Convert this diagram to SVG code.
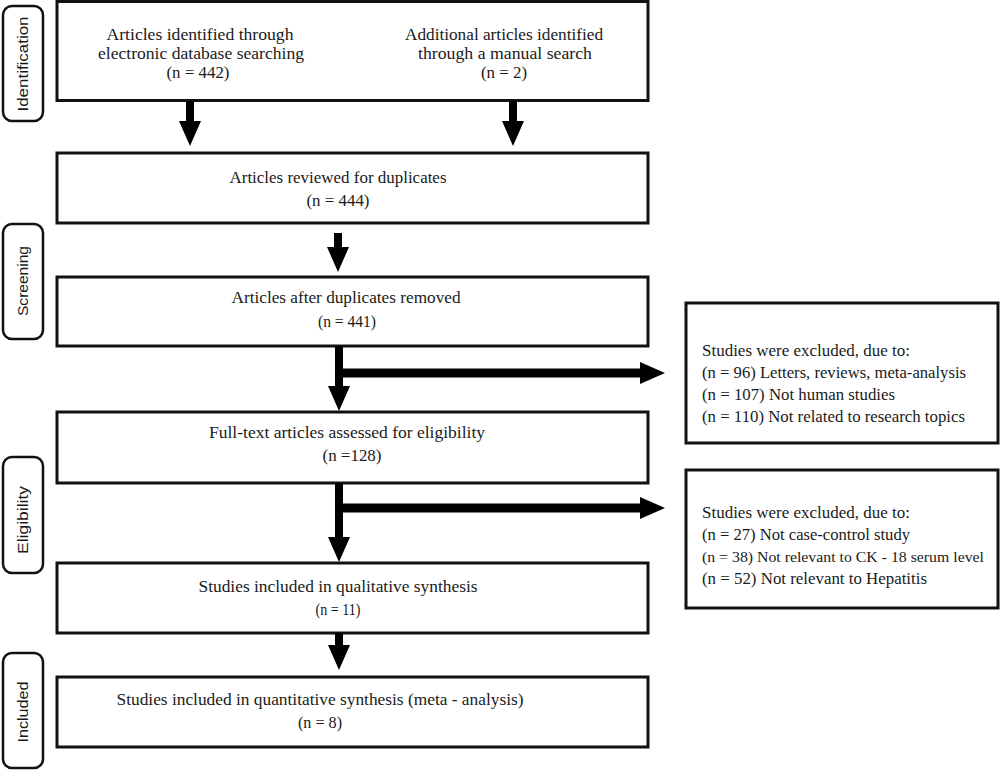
<svg xmlns="http://www.w3.org/2000/svg" width="1000" height="770" viewBox="0 0 1000 770">
<style>
.box{fill:#fff;stroke:#111;stroke-width:3}
.side{fill:#fff;stroke:#111;stroke-width:2.5}
.t{font-family:"Liberation Serif","DejaVu Serif",serif;font-size:16px;fill:#1a1a1a;text-anchor:middle}
.r{font-family:"Liberation Serif","DejaVu Serif",serif;font-size:16.5px;fill:#1a1a1a}
.s{font-family:"Liberation Sans","DejaVu Sans",sans-serif;font-size:14px;fill:#1a1a1a;text-anchor:middle}
.arr{fill:#000}
</style>
<rect width="1000" height="770" fill="#fff"/>

<g id="stage-identification">
<rect class="side" x="3" y="6" width="40" height="115" rx="9"/>
<text class="s" transform="translate(28,64) rotate(-90)" textLength="95" lengthAdjust="spacingAndGlyphs">Identification</text>
</g>
<g id="stage-screening">
<rect class="side" x="3" y="224" width="40" height="115" rx="9"/>
<text class="s" transform="translate(28,281) rotate(-90)" textLength="70" lengthAdjust="spacingAndGlyphs">Screening</text>
</g>
<g id="stage-eligibility">
<rect class="side" x="3" y="457" width="40" height="116" rx="9"/>
<text class="s" transform="translate(28,520) rotate(-90)" textLength="68" lengthAdjust="spacingAndGlyphs">Eligibility</text>
</g>
<g id="stage-included">
<rect class="side" x="3" y="653" width="40" height="115" rx="9"/>
<text class="s" transform="translate(28,712) rotate(-90)" textLength="61" lengthAdjust="spacingAndGlyphs">Included</text>
</g>

<g id="node-identified">
<rect class="box" x="57" y="1.5" width="591" height="99"/>
<text class="t" x="200" y="40" textLength="187" lengthAdjust="spacingAndGlyphs">Articles identified through</text>
<text class="t" x="201" y="59" textLength="206" lengthAdjust="spacingAndGlyphs">electronic database searching</text>
<text class="t" x="198" y="78" textLength="63" lengthAdjust="spacingAndGlyphs">(n = 442)</text>
<text class="t" x="504" y="40" textLength="198" lengthAdjust="spacingAndGlyphs">Additional articles identified</text>
<text class="t" x="505" y="59" textLength="174" lengthAdjust="spacingAndGlyphs">through a manual search</text>
<text class="t" x="504" y="78" textLength="46" lengthAdjust="spacingAndGlyphs">(n = 2)</text>
</g>

<g id="node-reviewed">
<rect class="box" x="57" y="153" width="591" height="70"/>
<text class="t" x="338" y="183" textLength="217" lengthAdjust="spacingAndGlyphs">Articles reviewed for duplicates</text>
<text class="t" x="338" y="206" textLength="63" lengthAdjust="spacingAndGlyphs">(n = 444)</text>
</g>

<g id="node-removed">
<rect class="box" x="57" y="277" width="591" height="69"/>
<text class="t" x="346" y="303" textLength="229" lengthAdjust="spacingAndGlyphs">Articles after duplicates removed</text>
<text class="t" x="347" y="327" textLength="58" lengthAdjust="spacingAndGlyphs">(n = 441)</text>
</g>

<g id="node-fulltext">
<rect class="box" x="57" y="412" width="591" height="71"/>
<text class="t" x="347" y="438" textLength="276" lengthAdjust="spacingAndGlyphs">Full-text articles assessed for eligibility</text>
<text class="t" x="352" y="461" textLength="59" lengthAdjust="spacingAndGlyphs">(n  =128)</text>
</g>

<g id="node-qualitative">
<rect class="box" x="57" y="563" width="591" height="70"/>
<text class="t" x="338" y="592" textLength="279" lengthAdjust="spacingAndGlyphs">Studies included in qualitative synthesis</text>
<text class="t" x="338" y="615" textLength="45" lengthAdjust="spacingAndGlyphs">(n = 11)</text>
</g>

<g id="node-quantitative">
<rect class="box" x="57" y="677" width="591" height="70"/>
<text class="t" x="320" y="705" textLength="407" lengthAdjust="spacingAndGlyphs">Studies included in quantitative synthesis (meta - analysis)</text>
<text class="t" x="320" y="728" textLength="44" lengthAdjust="spacingAndGlyphs">(n = 8)</text>
</g>

<g id="node-excluded-1">
<rect class="box" x="686" y="303" width="312" height="140"/>
<text class="r" x="702" y="356" textLength="208" lengthAdjust="spacingAndGlyphs">Studies were excluded, due to:</text>
<text class="r" x="702" y="378" textLength="264" lengthAdjust="spacingAndGlyphs">(n = 96) Letters, reviews, meta-analysis</text>
<text class="r" x="702" y="400" textLength="193" lengthAdjust="spacingAndGlyphs">(n = 107) Not human studies</text>
<text class="r" x="702" y="422" textLength="263" lengthAdjust="spacingAndGlyphs">(n = 110) Not related to research topics</text>
</g>

<g id="node-excluded-2">
<rect class="box" x="686" y="470" width="312" height="138"/>
<text class="r" x="702" y="518" textLength="208" lengthAdjust="spacingAndGlyphs">Studies were excluded, due to:</text>
<text class="r" x="702" y="540" textLength="208" lengthAdjust="spacingAndGlyphs">(n = 27) Not case-control study</text>
<text class="r" x="702" y="562" style="font-size:15px" textLength="282" lengthAdjust="spacingAndGlyphs">(n = 38) Not relevant to CK - 18 serum level</text>
<text class="r" x="702" y="584" textLength="225" lengthAdjust="spacingAndGlyphs">(n = 52) Not relevant to Hepatitis</text>
</g>

<g id="connectors">
<polygon class="arr" points="186,101 194,101 194,121 201,121 190,146 179,121 186,121"/>
<polygon class="arr" points="509,101 517,101 517,121 524,121 513,146 502,121 509,121"/>
<polygon class="arr" points="334,233 342,233 342,247 349,247 338,272 327,247 334,247"/>
<polygon class="arr" points="335,346 343,346 343,386 350,386 339,411 328,386 335,386"/>
<polygon class="arr" points="343,368.5 640,368.5 640,362 665,373 640,384 640,377.5 343,377.5"/>
<polygon class="arr" points="335,483 343,483 343,537 350,537 339,562 328,537 335,537"/>
<polygon class="arr" points="343,503.5 640,503.5 640,497 665,508 640,519 640,512.5 343,512.5"/>
<polygon class="arr" points="335,633 343,633 343,645 350,645 339,670 328,645 335,645"/>
</g>
</svg>
